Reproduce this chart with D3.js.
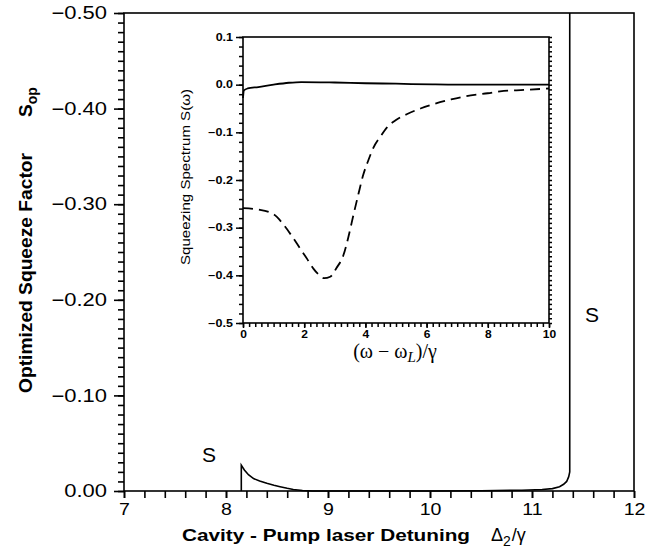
<!DOCTYPE html>
<html>
<head>
<meta charset="utf-8">
<script src="https://cdn.jsdelivr.net/npm/d3@7"></script>
<style>
  body { margin: 0; background: #fff; }
  svg { display: block; font-family: "Liberation Sans", Arial, sans-serif; }
  .domain { display: none; }
</style>
</head>
<body>
<svg id="chart" width="665" height="556"></svg>
<script>
// main plot: optimized squeeze factor vs detuning
const mainTicksX = [7, 8, 9, 10, 11, 12];
const mainTicksY = [0, -0.1, -0.2, -0.3, -0.4, -0.5];
const detuning = [8.15, 8.15, 8.18, 8.22, 8.27, 8.33, 8.40, 8.47, 8.53, 8.60, 8.66, 8.75, 8.85, 9.5, 10.0, 10.5, 10.9, 11.1, 11.2, 11.27, 11.31, 11.34, 11.36, 11.37, 11.37];
const squeeze = [0, -0.027, -0.022, -0.017, -0.013, -0.0105, -0.008, -0.006, -0.0045, -0.0028, -0.0015, -0.0006, 0, 0, 0, -0.0003, -0.0008, -0.0015, -0.0025, -0.0045, -0.007, -0.010, -0.015, -0.02, -0.50];

// inset: squeezing spectrum
const insetTicksX = [0, 2, 4, 6, 8, 10];
const insetTicksY = [0.1, 0, -0.1, -0.2, -0.3, -0.4, -0.5];
const omegaSolid = [0, 0.03, 0.15, 0.5, 1.0, 1.5, 1.9, 3.0, 4.0, 5.0, 6.2, 7, 8, 9, 10];
const spectrumSolid = [-0.028, -0.012, -0.008, -0.005, 0.0, 0.004, 0.0055, 0.0045, 0.003, 0.002, 0.0005, 0, 0, 0, 0];
const omegaDashed = [0, 0.5, 1.0, 1.33, 1.6, 1.87, 2.1, 2.3, 2.5, 2.65, 2.85, 3.05, 3.28, 3.45, 3.61, 3.77, 3.93, 4.1, 4.26, 4.5, 4.7, 5.0, 5.35, 5.8, 6.22, 6.8, 7.3, 8.0, 8.4, 9.2, 10];
const spectrumDashed = [-0.259, -0.262, -0.272, -0.294, -0.318, -0.344, -0.366, -0.386, -0.400, -0.406, -0.403, -0.385, -0.358, -0.318, -0.273, -0.230, -0.189, -0.158, -0.1325, -0.108, -0.090, -0.074, -0.062, -0.050, -0.041, -0.031, -0.024, -0.018, -0.014, -0.011, -0.008];

const svg = d3.select('#chart');

// the scan's lettering is wider than Liberation Sans, so stretch text sideways
function stretch(sel, k){
    sel.each(function(){
        const len = this.getComputedTextLength();
        d3.select(this).attr('textLength', len * k).attr('lengthAdjust', 'spacingAndGlyphs');
    });
}
const noLabel = () => '';

/**** main plot ****/
const x = d3.scaleLinear().domain([7, 12]).range([124, 634]);
const y = d3.scaleLinear().domain([0, -0.5]).range([491, 13]);

// x axis: minor every 0.2
svg.append('g').attr('class', 'ax').attr('transform', `translate(0,${y(0)})`)
    .call(d3.axisBottom(x).tickValues(d3.range(0, 26).map(i => 7 + i * 0.2)).tickSize(7).tickFormat(noLabel));
svg.append('g').attr('class', 'ax').attr('transform', `translate(0,${y(0)})`)
    .call(d3.axisBottom(x).tickValues(mainTicksX).tickSize(7).tickPadding(5).tickFormat(d3.format('d')))
    .call(g => g.selectAll('text').style('font-size', '17px').style('fill', '#000').call(stretch, 1.15));

// y axis: minor every 0.01
svg.append('g').attr('class', 'ax').attr('transform', `translate(${x(7)},0)`)
    .call(d3.axisLeft(y).tickValues(d3.range(0, 51).map(i => -i / 100)).tickSize(6).tickFormat(noLabel));
svg.append('g').attr('class', 'ax').attr('transform', `translate(${x(7)},0)`)
    .call(d3.axisLeft(y).tickValues(mainTicksY).tickSize(10).tickPadding(7).tickFormat(d3.format('.2f')))
    .call(g => g.selectAll('text').style('font-size', '18px').style('fill', '#000').call(stretch, 1.22));

svg.selectAll('.ax .tick line').attr('stroke', '#000').attr('stroke-width', 1.6);

// frame
svg.append('rect')
    .attr('x', x(7)).attr('y', y(-0.5))
    .attr('width', x(12) - x(7)).attr('height', y(0) - y(-0.5))
    .style('fill', 'none').style('stroke', '#000').style('stroke-width', 1.6);

svg.append('path')
    .datum(detuning.map((d, i) => [d, squeeze[i]]))
    .attr('d', d3.line().x(d => x(d[0])).y(d => y(d[1])))
    .style('fill', 'none').style('stroke', '#000').style('stroke-width', 1.6);

// labels
svg.append('text').attr('x', 182).attr('y', 541)
    .style('font-size', '17px').style('font-weight', 'bold')
    .text('Cavity - Pump laser Detuning')
    .attr('textLength', 288).attr('lengthAdjust', 'spacingAndGlyphs');
const xl = svg.append('text').attr('x', 491).attr('y', 541).style('font-size', '18px');
xl.append('tspan').text('Δ');
xl.append('tspan').style('font-size', '14px').attr('dy', 5).text('2');
xl.append('tspan').attr('dy', -5).attr('dx', 1).text('/γ');

svg.append('text').attr('transform', 'translate(32,393) rotate(-90)')
    .style('font-size', '18px').style('font-weight', 'bold')
    .text('Optimized Squeeze Factor')
    .attr('textLength', 240).attr('lengthAdjust', 'spacingAndGlyphs');
const yl = svg.append('text').attr('transform', 'translate(32,117) rotate(-90)')
    .style('font-size', '19px').style('font-weight', 'bold');
yl.append('tspan').text('S');
yl.append('tspan').style('font-size', '14px').attr('dy', 5).text('op');

svg.append('text').attr('x', 202).attr('y', 462).style('font-size', '21px').text('S');
svg.append('text').attr('x', 585).attr('y', 322).style('font-size', '21px').text('S');

/**** inset ****/
const ix = d3.scaleLinear().domain([0, 10]).range([243, 549]);
const iy = d3.scaleLinear().domain([-0.5, 0.1]).range([323, 37]);
const inset = svg.append('g');

inset.append('rect')
    .attr('x', ix(0)).attr('y', iy(0.1))
    .attr('width', ix(10) - ix(0)).attr('height', iy(-0.5) - iy(0.1))
    .style('fill', '#fff');

inset.append('g').attr('class', 'ax').attr('transform', `translate(0,${iy(-0.5)})`)
    .call(d3.axisBottom(ix).tickValues(d3.range(0, 51).map(i => i * 0.2)).tickSize(4).tickFormat(noLabel));
inset.append('g').attr('class', 'ax').attr('transform', `translate(0,${iy(-0.5)})`)
    .call(d3.axisBottom(ix).tickValues(insetTicksX).tickSize(5).tickPadding(3).tickFormat(d3.format('d')))
    .call(g => g.selectAll('text').style('font-size', '10px').style('font-weight', 'bold').style('fill', '#000').call(stretch, 1.2));

inset.append('g').attr('class', 'ax').attr('transform', `translate(${ix(0)},0)`)
    .call(d3.axisLeft(iy).tickValues(d3.range(0, 31).map(i => 0.1 - i * 0.02)).tickSize(4).tickFormat(noLabel));
inset.append('g').attr('class', 'ax').attr('transform', `translate(${ix(0)},0)`)
    .call(d3.axisLeft(iy).tickValues(insetTicksY).tickSize(7).tickPadding(3).tickFormat(d3.format('.1f')))
    .call(g => g.selectAll('text').style('font-size', '10px').style('font-weight', 'bold').style('fill', '#000').call(stretch, 1.25));

inset.append('g').attr('class', 'ax').attr('transform', `translate(${ix(10)},0)`)
    .call(d3.axisRight(iy).tickValues(d3.range(0, 61).map(i => 0.1 - i * 0.01)).tickSize(3).tickFormat(noLabel));

inset.selectAll('.ax .tick line').attr('stroke', '#000').attr('stroke-width', 1.5);

inset.append('rect')
    .attr('x', ix(0)).attr('y', iy(0.1))
    .attr('width', ix(10) - ix(0)).attr('height', iy(-0.5) - iy(0.1))
    .style('fill', 'none').style('stroke', '#000').style('stroke-width', 1.6);

inset.append('path')
    .datum(omegaSolid.map((d, i) => [d, spectrumSolid[i]]))
    .attr('d', d3.line().x(d => ix(d[0])).y(d => iy(d[1])).curve(d3.curveMonotoneX))
    .style('fill', 'none').style('stroke', '#000').style('stroke-width', 1.8);

inset.append('path')
    .datum(omegaDashed.map((d, i) => [d, spectrumDashed[i]]))
    .attr('d', d3.line().x(d => ix(d[0])).y(d => iy(d[1])).curve(d3.curveMonotoneX))
    .style('fill', 'none').style('stroke', '#000').style('stroke-width', 1.8)
    .style('stroke-dasharray', '10,6');

inset.append('text').attr('transform', 'translate(190,177) rotate(-90)')
    .attr('text-anchor', 'middle').style('font-size', '12px')
    .text('Squeezing Spectrum  S(ω)')
    .attr('textLength', 176).attr('lengthAdjust', 'spacingAndGlyphs');

const ixl = inset.append('text').attr('x', 395).attr('y', 358).attr('text-anchor', 'middle')
    .style('font-family', '"Liberation Serif", serif').style('font-size', '20px');
ixl.append('tspan').text('(ω − ω');
ixl.append('tspan').style('font-style', 'italic').style('font-size', '15px').attr('dy', 4).text('L');
ixl.append('tspan').attr('dy', -4).text(')/γ');
</script>
</body>
</html>
